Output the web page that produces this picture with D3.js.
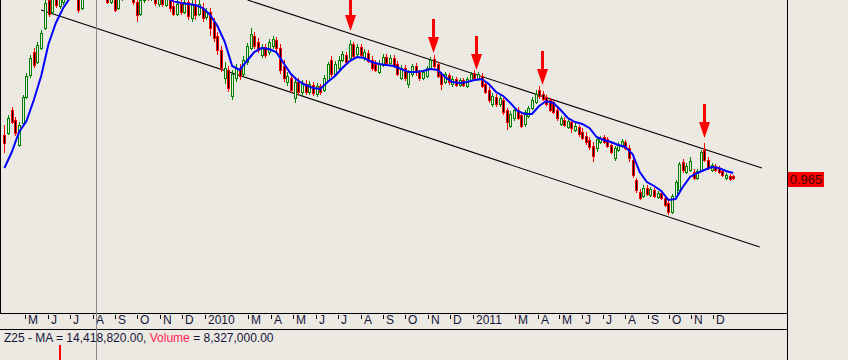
<!DOCTYPE html>
<html><head><meta charset="utf-8">
<script src="https://cdn.jsdelivr.net/npm/d3@7"></script>
<style>body{margin:0;background:#ece9e3}svg{display:block}</style>
</head><body><svg id="c" width="848" height="360"></svg>
<script>
// ---------- DATA ----------
const startDate = new Date(2009, 3, 3);
const stepDays = 5;
const opens = [
1.051,1.055,1.101,1.081,1.031,1.075,1.127,1.171,1.217,1.197,
1.225,1.265,1.321,1.297,1.337,1.309,1.317,1.341,1.331,1.351,
1.333,1.305,1.329,1.345,1.333,1.349,1.337,1.349,1.329,1.317,
1.333,1.305,1.325,1.341,1.329,1.341,1.317,1.293,1.321,1.337,
1.325,1.337,1.313,1.329,1.311,1.327,1.309,1.293,1.313,1.297,
1.317,1.285,1.311,1.293,1.305,1.287,1.297,1.277,1.249,1.221,
1.165,1.181,1.129,1.165,1.185,1.173,1.197,1.225,1.249,1.237,
1.211,1.227,1.217,1.229,1.241,1.225,1.189,1.157,1.165,1.125,
1.157,1.137,1.153,1.137,1.151,1.133,1.149,1.141,1.161,1.201,
1.173,1.185,1.201,1.211,1.205,1.233,1.213,1.227,1.205,1.215,
1.201,1.193,1.177,1.191,1.207,1.195,1.205,1.193,1.165,1.185,
1.153,1.173,1.189,1.177,1.165,1.169,1.185,1.203,1.193,1.173,
1.157,1.171,1.153,1.163,1.151,1.161,1.149,1.161,1.175,1.163,
1.169,1.153,1.141,1.113,1.127,1.113,1.121,1.101,1.069,1.085,
1.101,1.091,1.073,1.089,1.105,1.117,1.141,1.133,1.127,1.121,
1.117,1.101,1.073,1.081,1.067,1.077,1.061,1.067,1.057,1.049,
1.041,1.029,1.025,1.037,1.047,1.043,1.031,1.005,1.021,1.029,
1.037,1.025,1.001,0.961,0.937,0.929,0.945,0.931,0.941,0.927,
0.935,0.925,0.915,0.897,0.929,0.941,0.997,0.977,0.981,0.977,
0.965,0.981,1.021,1.001,0.981,0.989,0.985,0.979,0.965,0.969,
0.969];
const closes = [
1.035,1.085,1.077,1.055,1.071,1.127,1.169,1.205,1.191,1.231,
1.255,1.315,1.293,1.331,1.311,1.333,1.341,1.327,1.351,1.333,
1.301,1.329,1.345,1.333,1.349,1.337,1.353,1.329,1.317,1.333,
1.301,1.325,1.341,1.329,1.345,1.317,1.291,1.321,1.337,1.325,
1.341,1.315,1.329,1.313,1.327,1.305,1.293,1.313,1.297,1.317,
1.289,1.311,1.291,1.313,1.285,1.297,1.265,1.245,1.221,1.185,
1.185,1.145,1.173,1.185,1.169,1.201,1.229,1.253,1.229,1.221,
1.227,1.211,1.237,1.243,1.225,1.181,1.165,1.169,1.141,1.157,
1.137,1.153,1.137,1.153,1.135,1.149,1.137,1.165,1.193,1.173,
1.193,1.201,1.213,1.197,1.233,1.209,1.227,1.211,1.217,1.199,
1.185,1.181,1.193,1.207,1.195,1.205,1.189,1.173,1.185,1.165,
1.177,1.189,1.177,1.165,1.177,1.185,1.201,1.189,1.169,1.153,
1.173,1.157,1.163,1.151,1.161,1.151,1.163,1.173,1.165,1.173,
1.149,1.137,1.121,1.129,1.113,1.125,1.097,1.077,1.093,1.101,
1.085,1.069,1.097,1.105,1.121,1.133,1.129,1.123,1.113,1.101,
1.097,1.085,1.085,1.071,1.079,1.065,1.069,1.053,1.045,1.037,
1.027,1.009,1.043,1.045,1.037,1.029,1.017,1.025,1.033,1.039,
1.025,1.005,0.971,0.941,0.925,0.945,0.933,0.943,0.929,0.935,
0.925,0.911,0.897,0.929,0.957,0.993,0.981,0.989,0.999,0.965,
0.979,1.017,1.001,0.985,0.991,0.981,0.977,0.971,0.971,0.963,
0.965];
const highs = [
1.071,1.091,1.107,1.087,1.077,1.131,1.175,1.211,1.225,1.237,
1.261,1.325,1.341,1.345,1.349,1.351,1.357,1.361,1.365,1.369,
1.345,1.345,1.361,1.357,1.361,1.365,1.365,1.361,1.341,1.345,
1.341,1.337,1.353,1.353,1.357,1.349,1.325,1.329,1.349,1.349,
1.353,1.345,1.341,1.341,1.337,1.337,1.321,1.321,1.325,1.329,
1.325,1.321,1.321,1.323,1.315,1.305,1.305,1.285,1.257,1.229,
1.197,1.189,1.181,1.193,1.193,1.209,1.235,1.265,1.257,1.245,
1.233,1.233,1.243,1.249,1.247,1.233,1.201,1.177,1.173,1.163,
1.165,1.161,1.161,1.159,1.157,1.155,1.153,1.171,1.197,1.209,
1.199,1.209,1.219,1.217,1.241,1.237,1.233,1.233,1.223,1.221,
1.209,1.201,1.201,1.213,1.213,1.211,1.211,1.199,1.191,1.191,
1.181,1.193,1.195,1.181,1.181,1.189,1.207,1.211,1.197,1.177,
1.177,1.175,1.169,1.167,1.165,1.165,1.167,1.177,1.181,1.177,
1.175,1.159,1.147,1.135,1.133,1.131,1.125,1.105,1.099,1.107,
1.107,1.097,1.101,1.109,1.127,1.141,1.149,1.139,1.131,1.125,
1.123,1.109,1.089,1.087,1.083,1.081,1.075,1.071,1.065,1.057,
1.047,1.037,1.047,1.049,1.051,1.047,1.035,1.029,1.037,1.043,
1.041,1.031,1.009,0.965,0.943,0.951,0.951,0.947,0.945,0.939,
0.941,0.929,0.921,0.933,0.961,0.997,1.003,0.995,1.007,0.983,
0.983,1.021,1.035,1.007,0.995,0.993,0.989,0.983,0.975,0.973,
0.971];
const lows = [
1.015,1.051,1.073,1.049,1.027,1.071,1.123,1.165,1.185,1.193,
1.221,1.261,1.287,1.293,1.305,1.303,1.311,1.317,1.325,1.327,
1.295,1.301,1.323,1.325,1.327,1.329,1.331,1.321,1.313,1.313,
1.297,1.301,1.319,1.323,1.323,1.311,1.277,1.289,1.315,1.319,
1.319,1.309,1.307,1.307,1.307,1.297,1.289,1.289,1.291,1.293,
1.281,1.277,1.281,1.289,1.277,1.281,1.249,1.237,1.211,1.177,
1.153,1.137,1.121,1.157,1.161,1.167,1.191,1.221,1.223,1.215,
1.205,1.205,1.211,1.223,1.217,1.173,1.157,1.149,1.135,1.115,
1.131,1.129,1.131,1.131,1.129,1.127,1.131,1.137,1.157,1.167,
1.169,1.181,1.197,1.191,1.201,1.205,1.207,1.205,1.199,1.195,
1.179,1.177,1.173,1.187,1.189,1.191,1.185,1.169,1.161,1.159,
1.145,1.167,1.169,1.159,1.161,1.165,1.181,1.183,1.165,1.141,
1.153,1.151,1.147,1.147,1.147,1.147,1.145,1.157,1.161,1.159,
1.145,1.133,1.115,1.107,1.107,1.107,1.091,1.061,1.065,1.079,
1.081,1.065,1.067,1.085,1.101,1.113,1.123,1.119,1.109,1.097,
1.093,1.079,1.069,1.067,1.063,1.055,1.057,1.047,1.041,1.031,
1.021,0.997,1.017,1.033,1.033,1.025,1.013,0.999,1.017,1.025,
1.021,0.997,0.965,0.935,0.921,0.925,0.929,0.927,0.925,0.923,
0.921,0.907,0.891,0.893,0.925,0.937,0.975,0.973,0.977,0.961,
0.961,0.977,0.997,0.981,0.977,0.977,0.973,0.967,0.961,0.959,
0.961];
// 25-period moving average, read at every second bar
const maValues = [
0.985,1.017,1.057,1.079,1.121,1.169,1.233,1.275,1.305,1.327,
1.337,1.343,1.347,1.349,1.349,1.347,1.345,1.341,1.339,1.335,
1.333,1.329,1.325,1.319,1.315,1.313,1.311,1.305,1.291,1.269,
1.237,1.189,1.181,1.199,1.217,1.225,1.223,1.217,1.195,1.173,
1.159,1.151,1.145,1.143,1.157,1.169,1.185,1.199,1.207,1.205,
1.197,1.193,1.191,1.189,1.183,1.177,1.177,1.179,1.183,1.181,
1.167,1.157,1.155,1.157,1.161,1.163,1.153,1.137,1.129,1.115,
1.099,1.093,1.093,1.109,1.119,1.115,1.101,1.085,1.077,1.073,
1.065,1.047,1.041,1.037,1.031,1.027,1.013,0.977,0.957,0.949,
0.939,0.921,0.923,0.947,0.967,0.975,0.981,0.987,0.985,0.979,
0.975];
// channel lines
const trendStartDates = [new Date(2010,1,28), new Date(2009,4,23)];
const trendStartPrices = [1.321, 1.301];
const trendEndDates = [new Date(2012,1,7), new Date(2012,1,4)];
const trendEndPrices = [0.985, 0.827];
// red arrow markers (tip date / price)
const arrowDates = [new Date(2010,6,18), new Date(2010,10,7), new Date(2011,0,5), new Date(2011,3,7), new Date(2011,10,18)];
const arrowPrices = [1.259, 1.215, 1.181, 1.151, 1.045];
// volume pane (only one bar reaches into view)
const volumeDates = [new Date(2009,5,17)];
const volumeValues = [15700000];
const cursorDate = new Date(2009,7,5);
const monthLetters = ["J","F","M","A","M","J","J","A","S","O","N","D"];
const lastPriceText = "0.965";
const statusParts = ["Z25 - MA = 14,418,820.00, ", "Volume", " = 8,327,000.00"];

// ---------- CHART ----------
const W = 848, H = 360, BG = "#ece9e3";
const plotR = 787, axTop = 313, axBot = 329;
const svg = d3.select("#c");
svg.append("rect").attr("width", W).attr("height", H).attr("fill", BG);

const dates = d3.range(closes.length).map(i => d3.timeDay.offset(startDate, i * stepDays));
const x = d3.scaleTime()
  .domain([new Date(2009,4,1), new Date(2010,0,1), new Date(2011,0,1), new Date(2011,11,1)])
  .range([25, 205, 473, 713]);
const y = d3.scaleLinear().domain([0.695, 1.321]).range([axTop, 0]);

svg.append("defs").append("clipPath").attr("id", "clip")
  .append("rect").attr("x", 1).attr("y", 0).attr("width", plotR - 1).attr("height", axTop);

const plot = svg.append("g").attr("clip-path", "url(#clip)");

// channel lines
const tl = plot.append("g");
trendStartDates.forEach((d, i) => {
  tl.append("line")
    .attr("x1", x(d)).attr("y1", y(trendStartPrices[i]))
    .attr("x2", x(trendEndDates[i])).attr("y2", y(trendEndPrices[i]))
    .attr("stroke", "#000").attr("stroke-width", 1.1);
});

// candles
const cg = plot.append("g").attr("shape-rendering", "crispEdges");
dates.forEach((d, i) => {
  const cx = Math.round(x(d));
  const up = closes[i] >= opens[i];
  const col = up ? "#008000" : "#ff0000";
  cg.append("line").attr("x1", cx + 0.5).attr("x2", cx + 0.5)
    .attr("y1", Math.round(y(highs[i]))).attr("y2", Math.round(y(lows[i])))
    .attr("stroke", col);
  const top = Math.round(y(Math.max(opens[i], closes[i])));
  const bot = Math.round(y(Math.min(opens[i], closes[i])));
  cg.append("rect").attr("x", cx - 0.5).attr("y", top + 0.5)
    .attr("width", 2).attr("height", Math.max(bot - top, 1))
    .attr("fill", up ? BG : "#000").attr("stroke", col);
});

// moving average
const maDates = dates.filter((d, i) => i % 2 === 0);
plot.append("path")
  .datum(maValues.map((v, i) => [maDates[i], v]))
  .attr("d", d3.line().x(p => x(p[0])).y(p => y(p[1])))
  .attr("fill", "none").attr("stroke", "#0000ff").attr("stroke-width", 2);

// arrows
arrowDates.forEach((d, i) => {
  const ax = Math.round(x(d)) + 0.5, ay = y(arrowPrices[i]);
  plot.append("rect").attr("x", ax - 1.5).attr("y", ay - 34).attr("width", 3).attr("height", 19).attr("fill", "#ff0000");
  plot.append("path").attr("d", `M${ax - 5.5},${ay - 16}L${ax + 5.5},${ay - 16}L${ax},${ay}Z`).attr("fill", "#ff0000");
});

// frame
const fr = svg.append("g").attr("shape-rendering", "crispEdges").attr("stroke", "#000");
fr.append("line").attr("x1", 0.5).attr("x2", 0.5).attr("y1", 0).attr("y2", axTop);
fr.append("line").attr("x1", 0).attr("x2", plotR).attr("y1", axTop + 0.5).attr("y2", axTop + 0.5);
fr.append("line").attr("x1", 0).attr("x2", plotR).attr("y1", axBot + 0.5).attr("y2", axBot + 0.5);
fr.append("line").attr("x1", plotR + 0.5).attr("x2", plotR + 0.5).attr("y1", 0).attr("y2", H);

// month axis
const months = d3.timeMonth.range(new Date(2009,4,1), new Date(2012,0,1)).filter(d => d.getMonth() !== 1);
const ax = svg.append("g");
months.forEach(d => {
  const tx = Math.round(x(d)) + 0.5;
  ax.append("line").attr("x1", tx).attr("x2", tx).attr("y1", axTop + 2).attr("y2", axTop + 6)
    .attr("stroke", "#000").attr("shape-rendering", "crispEdges");
  ax.append("text").attr("x", tx + 2.5).attr("y", 324)
    .attr("font-family", "'Liberation Sans', Arial, sans-serif").attr("font-size", 12).attr("fill", "#14143a")
    .text(d.getMonth() === 0 ? d.getFullYear() : monthLetters[d.getMonth()]);
});

// cursor line
const cxl = Math.round(x(cursorDate)) + 0.5;
svg.append("line").attr("x1", cxl).attr("x2", cxl).attr("y1", 0).attr("y2", H)
  .attr("stroke", "#888").attr("shape-rendering", "crispEdges");

// volume pane
const v = d3.scaleLinear().domain([0, 20000000]).range([400, 330]);
volumeDates.forEach((d, i) => {
  svg.append("rect").attr("x", Math.round(x(d)) - 1).attr("y", v(volumeValues[i]))
    .attr("width", 2).attr("height", H - v(volumeValues[i])).attr("fill", "#ff0000");
});

// status text
const st = svg.append("text").attr("x", 4).attr("y", 342)
  .attr("font-family", "'Liberation Sans', Arial, sans-serif").attr("font-size", 12);
st.append("tspan").attr("fill", "#14143a").text(statusParts[0]);
st.append("tspan").attr("fill", "#ff1e50").text(statusParts[1]);
st.append("tspan").attr("fill", "#14143a").text(statusParts[2]);

// last price tag
const ly = y(closes[closes.length - 1]);
svg.append("rect").attr("x", 788).attr("y", Math.round(ly) - 6).attr("width", 36).attr("height", 15).attr("fill", "#ff0000");
svg.append("text").attr("x", 806).attr("y", Math.round(ly) + 6).attr("text-anchor", "middle")
  .attr("font-family", "'Liberation Sans', Arial, sans-serif").attr("font-size", 13).attr("fill", "#3a0000")
  .text(lastPriceText);
</script>
</body></html>
